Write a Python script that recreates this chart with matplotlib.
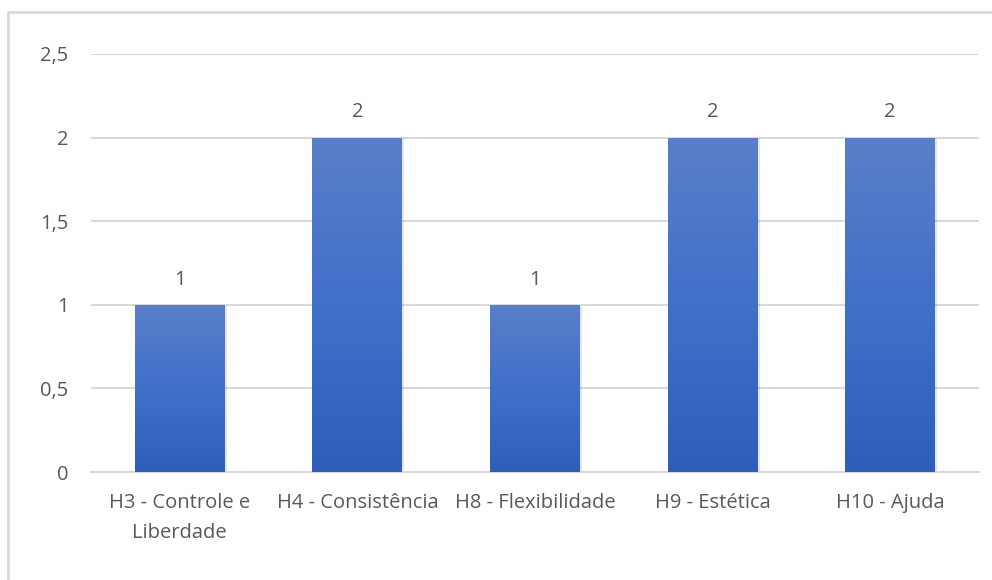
import numpy as np
import matplotlib
matplotlib.use('Agg')
import matplotlib.pyplot as plt
from matplotlib.patches import Rectangle
from matplotlib.colors import LinearSegmentedColormap

# Data
categories = ['H3 - Controle e\nLiberdade', 'H4 - Consistência', 'H8 - Flexibilidade',
              'H9 - Estética', 'H10 - Ajuda']
values = [1, 2, 1, 2, 2]
yticks = [0, 0.5, 1, 1.5, 2, 2.5]
ytick_labels = ['0', '0,5', '1', '1,5', '2', '2,5']

plt.rcParams['font.family'] = ['Open Sans', 'DejaVu Sans']
text_color = '#595959'
grid_color = '#D9D9D9'

fig = plt.figure(figsize=(9.92, 5.8), dpi=100)
ax = fig.add_axes([0.0917, 0.1862, 0.8952, 0.7207])

# outer chart frame (light gray), like Excel's chart area border
fig.patches.append(Rectangle((8 / 992, -0.1), 1.2, 1 - 12 / 580 + 0.1,
                             transform=fig.transFigure, fill=False,
                             edgecolor=grid_color, linewidth=2))

x = np.arange(len(categories))
bars = ax.bar(x, values, width=0.506, color='none', zorder=3)

# gradient fill for each bar
cmap = LinearSegmentedColormap.from_list('bluegrad', ['#2E5EB9', '#4170C9', '#5A7FC8'])
grad = np.linspace(0, 1, 256).reshape(-1, 1)
for b in bars:
    x0, w, h = b.get_x(), b.get_width(), b.get_height()
    # faint shadow on the right side
    ax.add_patch(Rectangle((x0 + 0.012, 0), w, h - 0.005, color='#000000',
                           alpha=0.10, zorder=2, linewidth=0))
    im = ax.imshow(grad, extent=[x0, x0 + w, 0, h], origin='lower',
                   cmap=cmap, aspect='auto', zorder=3)
    im.set_clip_path(b)
    ax.annotate(str(int(h)), (x0 + w / 2, h), xytext=(0, 11),
                textcoords='offset points', ha='center', va='bottom',
                fontsize=14.5, color=text_color)

ax.set_xlim(-0.5, len(categories) - 0.5)
ax.set_ylim(0, 2.5)
ax.set_yticks(yticks)
ax.set_yticklabels(ytick_labels)
ax.set_xticks(x)
ax.set_xticklabels(categories, linespacing=1.7)
ax.yaxis.grid(True, color=grid_color, linewidth=1.5, zorder=0)
ax.set_axisbelow(True)
for s in ['top', 'right', 'left']:
    ax.spines[s].set_visible(False)
ax.spines['bottom'].set_color(grid_color)
ax.spines['bottom'].set_linewidth(1.5)
ax.tick_params(axis='both', length=0, labelsize=14.5, colors=text_color)
ax.tick_params(axis='y', pad=16)
ax.tick_params(axis='x', pad=15)

fig.savefig('out.png', dpi=100)
